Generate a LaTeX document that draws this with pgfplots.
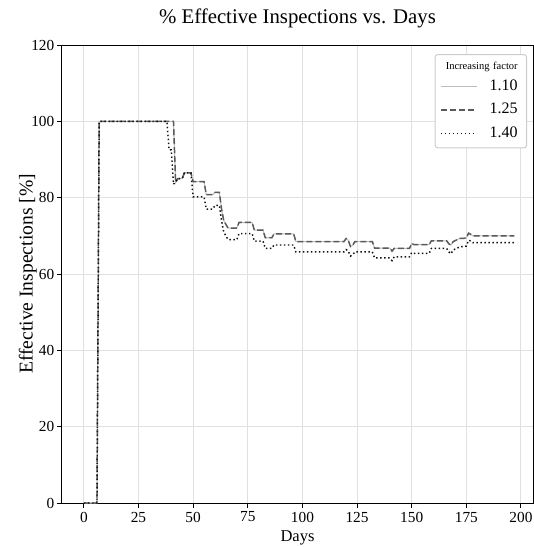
\documentclass[border=0pt]{standalone}
\usepackage{fontspec}
\setmainfont{Liberation Serif}
\usepackage{pgfplots}
\pgfplotsset{compat=1.18}
\usetikzlibrary{calc}
\definecolor{gridc}{HTML}{E0E0E0}
\definecolor{legc}{HTML}{CCCCCC}
\definecolor{cA}{HTML}{BDBDBD}
\definecolor{cB}{HTML}{5A5A5A}
\definecolor{cC}{HTML}{111111}

\pgfplotstableread{
d v
0 0
6 0
7 100
41 100
42 84
43 85
45 85
46 86.5
49 86.5
50 84.2
55 84.2
56 80.8
59 80.8
60 81.4
62 81.4
63 77
64 74
66 72
70 72
71 73.5
77 73.5
78 71.5
82 71.5
83 69.5
86 69.5
87 70.5
96 70.5
97 68.5
119 68.5
120 69.3
121 68.8
122 67.2
123 67.5
124 68.5
132 68.5
133 66.8
140 66.8
141 66.0
142 66.7
149 66.7
150 68.0
151 67.7
158 67.7
159 68.7
166 68.7
167 67.9
168 67.6
169 68.5
172 69.3
175 69.4
176 70.7
177 70.4
178 70.0
197 70.0
}\tabB

\pgfplotstableread{
d v
0 0
6 0
7 100
41 100
42 84
43 85
45 85
46 86.5
49 86.5
50 84.2
55 84.2
56 80.8
59 80.8
60 81.4
62 81.4
63 77
64 74
66 72
70 72
71 73.5
77 73.5
78 71.5
82 71.5
83 69.5
86 69.5
87 70.5
96 70.5
97 68.5
119 68.5
120 69.3
121 68.8
122 67.2
123 67.5
124 68.5
132 68.5
133 66.8
140 66.8
141 66.0
142 66.7
149 66.7
150 68.0
151 67.7
158 67.7
159 68.7
166 68.7
167 67.9
168 67.6
169 68.5
172 69.3
175 69.4
176 70.7
177 70.4
178 70.0
197 70.0
}\tabA

\pgfplotstableread{
d v
0 0
6 0
7 100
38 100
39 92.5
40 92.5
41 83.5
43 85
45 85
46 86.5
49 86.5
50 80.2
55 80.2
56 77
59 77
60 78
62 78
63 74
64 71
66 69
70 69
71 70.6
77 70.6
78 68.6
82 68.6
83 66.7
86 66.7
87 67.6
96 67.6
97 65.8
119 65.8
120 66.4
121 66.0
122 64.7
123 65.0
124 65.8
132 65.8
133 64.2
140 64.2
141 63.5
142 64.5
149 64.5
150 65.6
151 65.4
158 65.4
159 66.7
166 66.7
167 65.8
168 65.3
169 66.3
172 67.1
175 67.3
176 68.8
177 68.7
178 68.2
197 68.2
}\tabC

\begin{document}
\begin{tikzpicture}
\begin{axis}[
  width=353.25pt, height=343.5pt, scale only axis,
  xmin=-10, xmax=205.5, ymin=0, ymax=120,
  xtick={0,25,...,200}, ytick={0,20,...,120},
  grid=major, grid style={gridc, line width=0.75pt},
  axis line style={line width=0.75pt, black},
  tick align=outside, major tick length=3.75pt,
  tick style={black, line width=0.75pt},
  xtick pos=bottom, ytick pos=left,
  tick label style={font=\fontsize{11.5}{13}\selectfont, inner sep=0pt},
  xticklabel style={yshift=-2.75pt},
  yticklabel style={xshift=-1.85pt},
  /pgf/number format/assume math mode=true,
  title={\% Effective Inspections vs. Days},
  title style={at={(axis description cs:0.5,1.0284)}, anchor=base, yshift=0pt, inner sep=0pt, font=\fontsize{15.6}{18}\selectfont},
  xlabel={Days},
  xlabel style={at={(axis description cs:0.5,-0.0845)}, anchor=base, inner sep=0pt, font=\fontsize{12.4}{15}\selectfont},
  ylabel={Effective Inspections [\%]},
  ylabel style={at={(axis description cs:-0.0626,0.5)}, anchor=base, inner sep=0pt, font=\fontsize{14.7}{17}\selectfont},
  legend style={at={(axis description cs:0.9873,0.9803)}, anchor=north east,
    draw=legc, line width=0.75pt, rounded corners=2pt, fill=white,
    inner xsep=3.75pt, inner ysep=5pt, row sep=6pt, column sep=9pt,
    font=\fontsize{12}{14}\selectfont,
    nodes={inner sep=0pt, text height=8.5pt, text depth=3pt, text width=24pt, align=left}},
  legend cell align=left,
  legend image code/.code={\draw[#1] (0pt,0pt) -- (27pt,0pt);},
]
\addlegendimage{empty legend}
\addlegendentry[font=\fontsize{7.9}{9}\selectfont, text height=6pt, text depth=1.5pt]{\hspace*{-32.8pt}Increasing factor}
\addplot[cA, line width=0.8pt] table[x=d, y=v] {\tabA};
\addlegendentry{1.10}
\addplot[cB, line width=1.1pt, dash pattern=on 4.5pt off 2.25pt] table[x=d, y=v] {\tabB};
\addlegendentry{1.25}
\addplot[cC, line width=1.1pt, dash pattern=on 1.1pt off 1.9pt] table[x=d, y=v] {\tabC};
\addlegendentry{1.40}
\end{axis}
\path ($(current axis.south west)+(-46.5pt,-33pt)$) rectangle ($(current axis.north east)+(0.75pt,33.75pt)$);
\end{tikzpicture}
\end{document}
